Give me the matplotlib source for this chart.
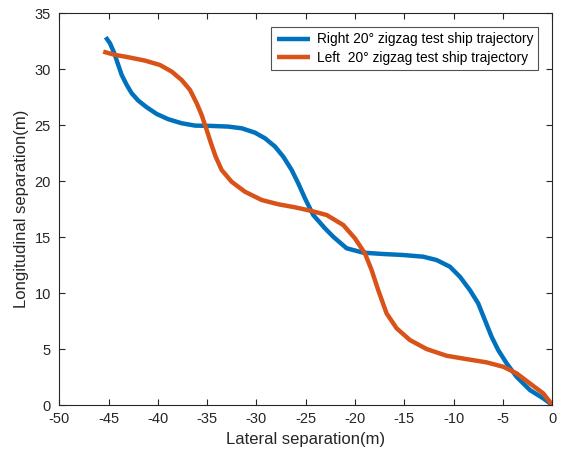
import matplotlib
matplotlib.use("Agg")
import matplotlib.pyplot as plt

plt.rcParams['font.family'] = ['Liberation Sans', 'DejaVu Sans']
plt.rcParams['axes.unicode_minus'] = False

right_x = [-45.29, -44.86, -44.42, -44.08, -43.67, -43.16, -42.66, -41.99, -41.14, -40.12,
           -38.95, -37.59, -36.24, -34.54, -32.86, -31.50, -30.15, -29.14, -28.12, -27.28,
           -26.43, -25.76, -25.08, -24.24, -23.05, -22.21, -20.85, -19.17, -17.14, -15.11,
           -13.08, -11.72, -10.38, -9.36, -8.35, -7.51, -6.83, -6.15, -5.48, -4.62,
           -3.61, -2.26, -0.91, 0.0]
right_y = [32.86, 32.32, 31.43, 30.54, 29.49, 28.60, 27.86, 27.20, 26.61, 26.01,
           25.54, 25.18, 24.97, 24.94, 24.88, 24.73, 24.34, 23.84, 23.10, 22.20,
           21.01, 19.82, 18.48, 16.99, 15.80, 15.05, 14.02, 13.63, 13.51, 13.42,
           13.27, 12.97, 12.38, 11.48, 10.29, 9.11, 7.62, 6.13, 4.94, 3.75,
           2.55, 1.37, 0.63, 0.05]

left_x = [-45.54, -44.35, -43.00, -41.31, -39.79, -38.60, -37.59, -36.74, -36.06, -35.56,
          -35.05, -34.61, -34.14, -33.53, -32.52, -31.17, -29.47, -27.79, -26.10, -24.40,
          -22.88, -21.20, -20.01, -19.00, -18.32, -17.65, -16.80, -15.78, -14.43, -12.74,
          -10.71, -8.68, -6.65, -4.97, -3.61, -2.26, -0.91, 0.0]
left_y = [31.57, 31.28, 31.07, 30.77, 30.38, 29.79, 29.04, 28.15, 26.96, 25.92,
          24.58, 23.39, 22.20, 21.01, 19.96, 19.07, 18.33, 17.95, 17.68, 17.35,
          16.99, 16.10, 14.91, 13.57, 12.08, 10.29, 8.21, 6.88, 5.83, 5.03,
          4.43, 4.13, 3.84, 3.45, 2.86, 1.96, 1.07, 0.05]

labels = ['Right 20\u00b0 zigzag test ship trajectory',
          'Left  20\u00b0 zigzag test ship trajectory']

fig = plt.figure(figsize=(5.64, 4.55), dpi=100)
ax = fig.add_axes([0.1051, 0.109, 0.874, 0.862])
ax.plot(right_x, right_y, color='#0072BD', lw=3.2, label=labels[0],
        solid_joinstyle='round', solid_capstyle='butt')
ax.plot(left_x, left_y, color='#D95319', lw=3.2, label=labels[1],
        solid_joinstyle='round', solid_capstyle='butt')
ax.set_xlim(-50, 0)
ax.set_ylim(0, 35)
ax.set_xticks(range(-50, 1, 5))
ax.set_yticks(range(0, 36, 5))
ax.tick_params(direction='in', top=True, right=True, labelsize=10.5, length=4,
               color='#262626', labelcolor='#262626')
ax.tick_params(axis='x', pad=5)
ax.tick_params(axis='y', pad=6)
for s in ax.spines.values():
    s.set_color('#262626')
    s.set_linewidth(0.8)
ax.set_xlabel('Lateral separation(m)', fontsize=12, color='#262626')
ax.set_ylabel('Longitudinal separation(m)', fontsize=12, color='#262626')
leg = ax.legend(loc='upper right', fontsize=9.9, fancybox=False, edgecolor='#262626',
                handlelength=2.4, handletextpad=0.5, borderaxespad=1.0,
                labelspacing=0.3, borderpad=0.4)
leg.get_frame().set_linewidth(0.8)
fig.savefig('out.png', dpi=100)
